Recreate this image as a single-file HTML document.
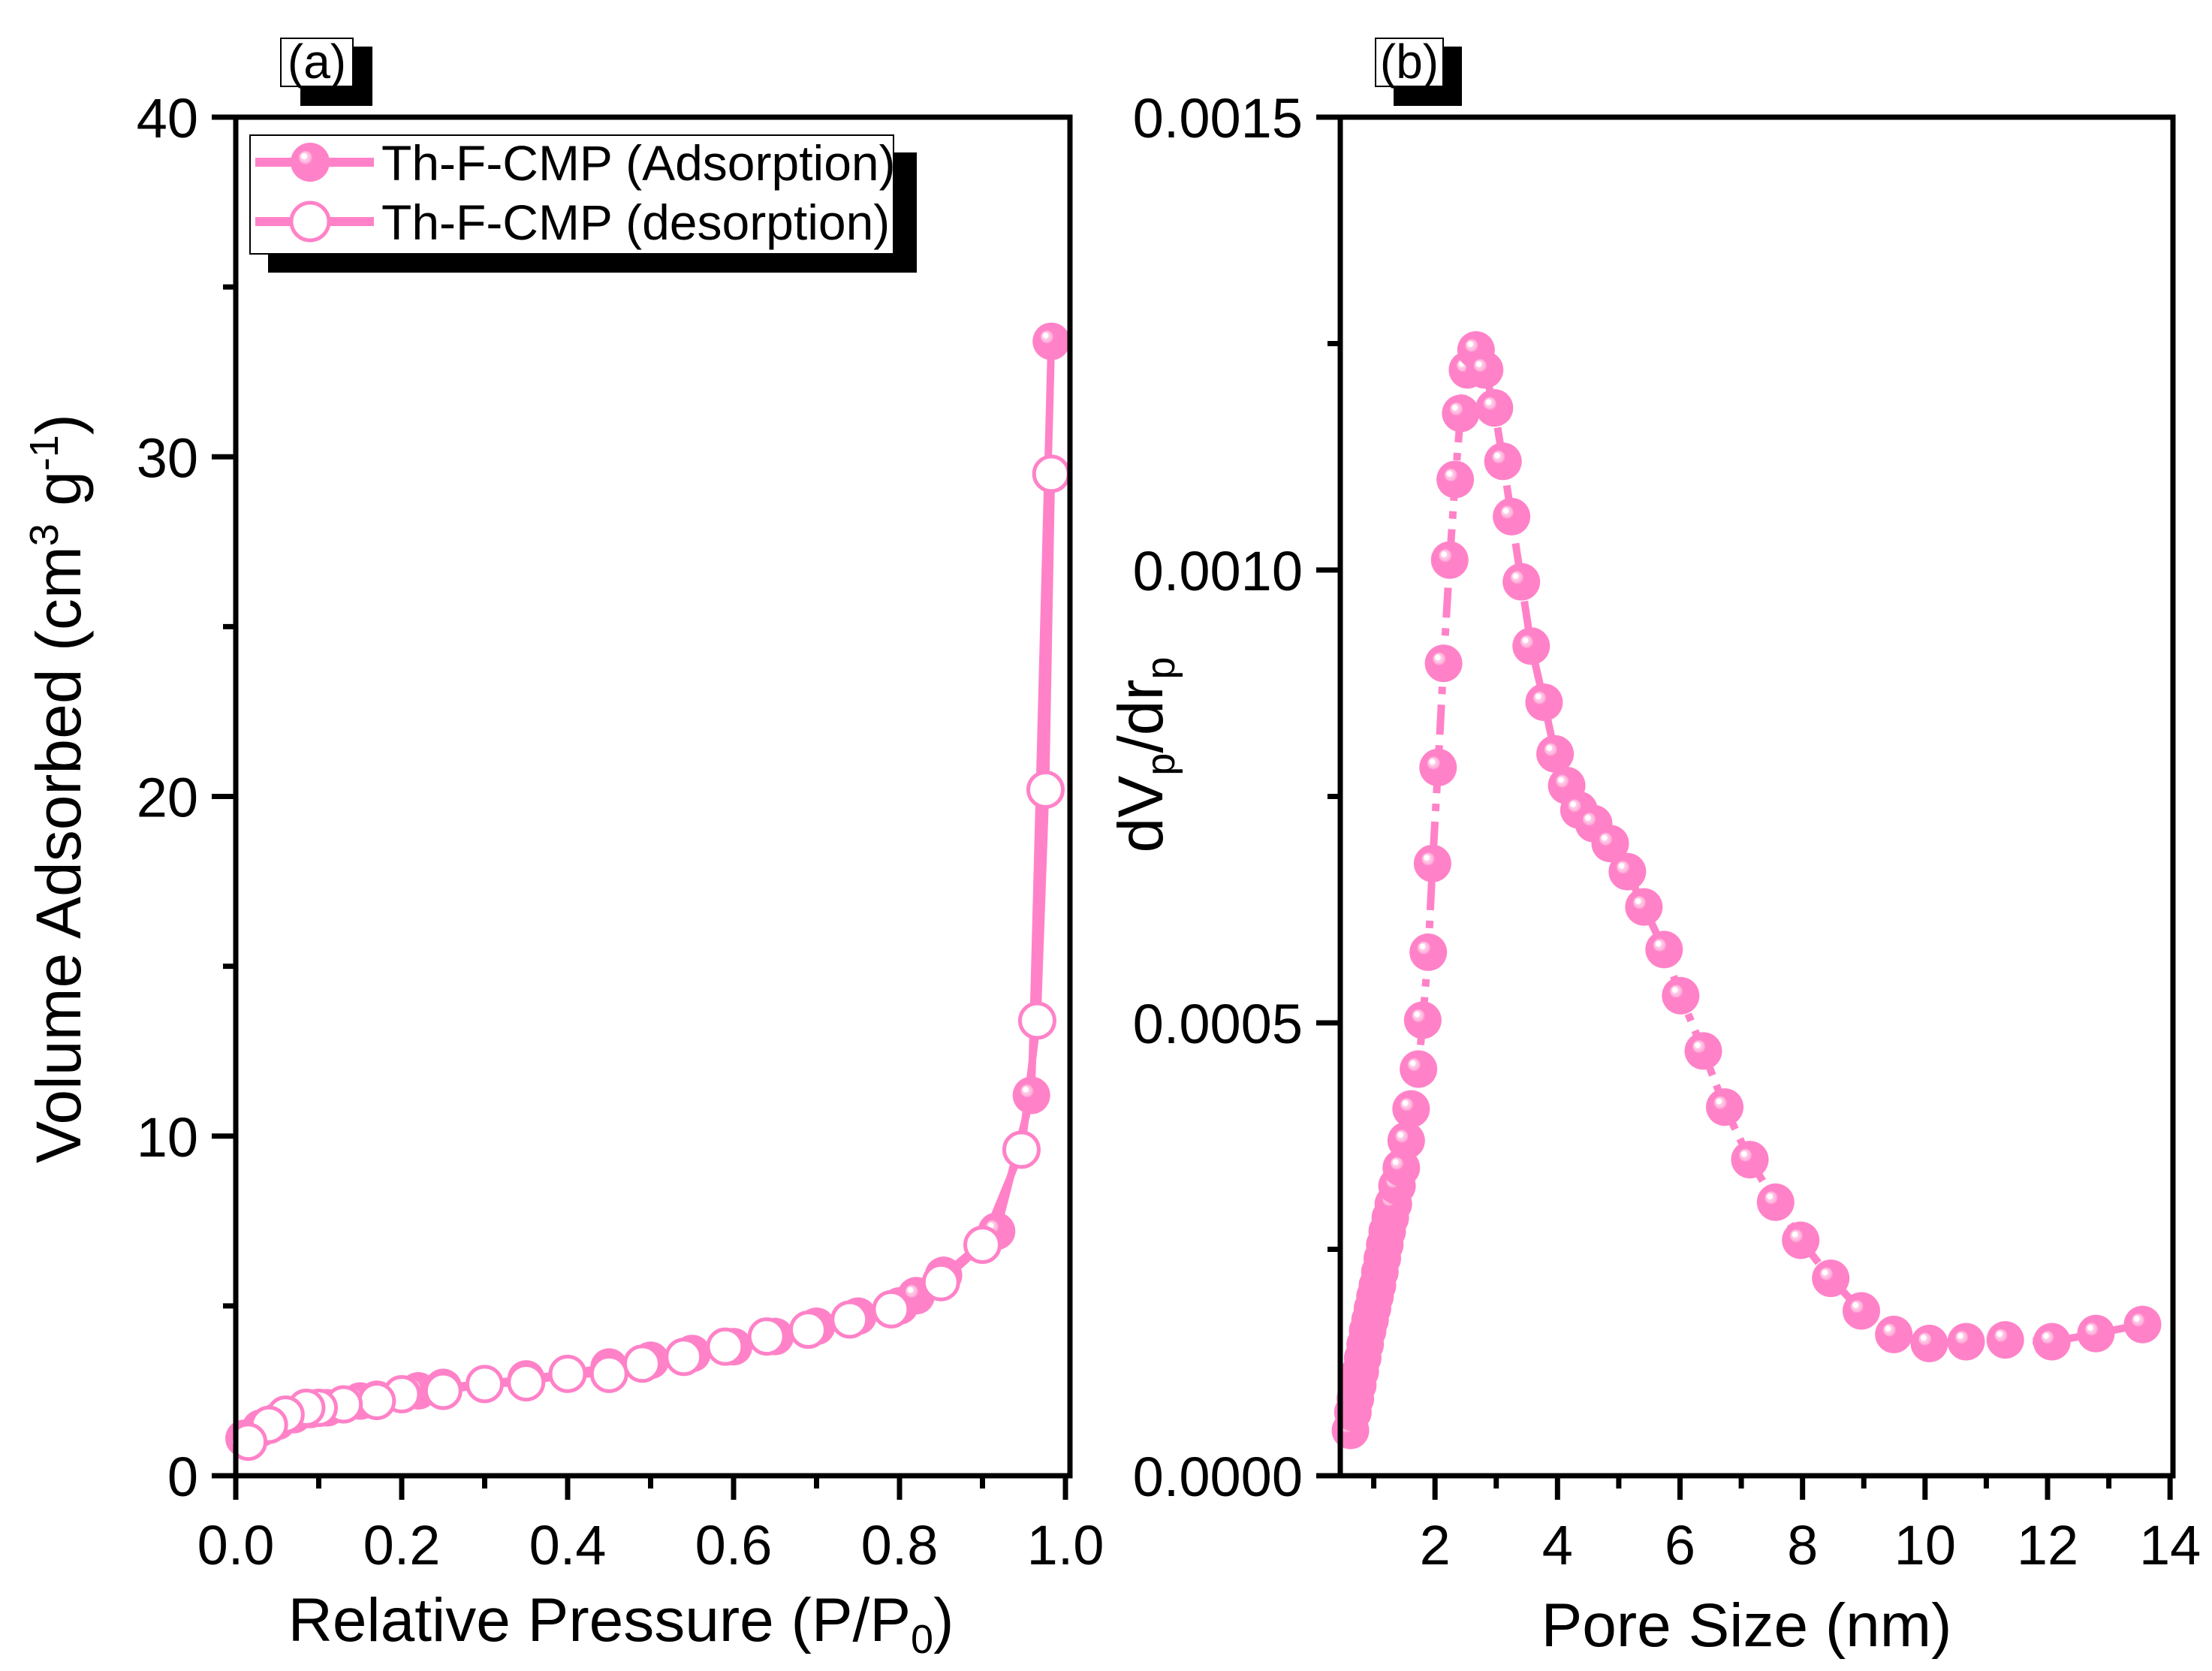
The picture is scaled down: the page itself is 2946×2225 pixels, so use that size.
<!DOCTYPE html>
<html><head><meta charset="utf-8"><style>
html,body{margin:0;padding:0;background:#fff;}
svg{display:block;font-family:"Liberation Sans",Arial,sans-serif;}
</style></head><body>
<svg id="chart" width="2946" height="2225" viewBox="0 0 2946 2225" xmlns="http://www.w3.org/2000/svg">
<defs>
<radialGradient id="ball" cx="0.5" cy="0.5" r="0.5" fx="0.32" fy="0.32">
<stop offset="0" stop-color="#ffffff"/>
<stop offset="0.14" stop-color="#ffffff"/>
<stop offset="0.16" stop-color="#ffd0ea"/>
<stop offset="0.3" stop-color="#ffb0da"/>
<stop offset="0.36" stop-color="#ff82c8"/>
<stop offset="1" stop-color="#ff82c8"/>
</radialGradient>
</defs>
<g id="panelA"></g>
<g id="panelB"></g>
</svg>
<script>
// Panel (a) data
const adsP = [0.01,0.03,0.05,0.07,0.09,0.11,0.13,0.15,0.17,0.20,0.22,0.25,0.30,0.35,0.40,0.45,0.50,0.55,0.60,0.65,0.70,0.75,0.80,0.82,0.853,0.917,0.959,0.983];
const adsV = [1.1,1.4,1.6,1.8,1.95,2.0,2.1,2.2,2.25,2.4,2.5,2.6,2.7,2.85,3.0,3.2,3.4,3.6,3.8,4.1,4.4,4.7,5.0,5.3,5.9,7.2,11.2,33.4];
const desP = [0.983,0.976,0.966,0.947,0.90,0.85,0.79,0.74,0.69,0.64,0.59,0.54,0.49,0.45,0.40,0.35,0.30,0.25,0.20,0.17,0.13,0.10,0.085,0.06,0.04,0.015];
const desV = [29.5,20.2,13.4,9.6,6.8,5.7,4.9,4.6,4.3,4.1,3.8,3.5,3.3,3.0,3.0,2.75,2.7,2.5,2.4,2.2,2.1,2.0,2.0,1.8,1.5,1.0];
const aXTicks = [0,0.2,0.4,0.6,0.8,1.0];
const aXLabels = ["0.0","0.2","0.4","0.6","0.8","1.0"];
const aYTicks = [0,10,20,30,40];
const aYLabels = ["0","10","20","30","40"];
// Panel (b) data
const poreX = [0.62,0.66,0.70,0.74,0.78,0.82,0.86,0.90,0.94,0.98,1.02,1.06,1.10,1.14,1.18,1.22,1.27,1.32,1.38,1.45,1.53,1.61,1.73,1.80,1.89,1.96,2.05,2.14,2.24,2.33,2.42,2.53,2.67,2.81,2.97,3.11,3.25,3.41,3.57,3.78,3.96,4.15,4.35,4.59,4.86,5.14,5.41,5.74,6.01,6.38,6.73,7.14,7.56,7.97,8.46,8.96,9.49,10.07,10.67,11.31,12.07,12.79,13.55];
const poreY = [0.00005,0.00007,0.000085,0.0001,0.000115,0.00013,0.000145,0.00016,0.000172,0.000185,0.000198,0.00021,0.000225,0.00024,0.000255,0.00027,0.000285,0.0003,0.00032,0.00034,0.00037,0.000405,0.000449,0.000503,0.000578,0.000676,0.000782,0.000897,0.001011,0.0011,0.001173,0.001221,0.001243,0.001221,0.001179,0.00112,0.001059,0.000987,0.000916,0.000854,0.000797,0.000762,0.000735,0.00072,0.000698,0.000667,0.000628,0.000581,0.00053,0.000469,0.000407,0.000349,0.000302,0.00026,0.000218,0.000182,0.000156,0.000146,0.000148,0.00015,0.000148,0.000157,0.000167];
const bXTicks = [2,4,6,8,10,12,14];
const bXLabels = ["2","4","6","8","10","12","14"];
const bYTicks = [0,0.0005,0.001,0.0015];
const bYLabels = ["0.0000","0.0005","0.0010","0.0015"];

const NS = "http://www.w3.org/2000/svg";
const PINK = "#ff82c8";
const MR = 25;
function mk(parent, tag, attrs, text){
  const e = document.createElementNS(NS, tag);
  for (const k in attrs) e.setAttribute(k, attrs[k]);
  if (text !== undefined) e.textContent = text;
  parent.appendChild(e);
  return e;
}

// ---------- Panel A ----------
const A = document.getElementById('panelA');
const ax = {L:314, R:1425, T:156, B:1965};
const axX = v => 314 + v*(1419-314);
const axY = v => 1965 - v/40*(1965-156);

function drawTicksAndFrame(g, box, xTicks, xLabels, xMinor, yTicks, yLabels, yMinor, xf, yf, prefix){
  for (let i=0;i<xMinor.length;i++){
    const t = mk(g,'line',{x1:xf(xMinor[i]),x2:xf(xMinor[i]),y1:box.B,y2:box.B+17,stroke:'#000','stroke-width':7});
    
    
  }
  for (let i=0;i<yMinor.length;i++){
    const t = mk(g,'line',{x1:box.L-17,x2:box.L,y1:yf(yMinor[i]),y2:yf(yMinor[i]),stroke:'#000','stroke-width':7});
    
    
  }
  for (let i=0;i<xTicks.length;i++){
    const x = xf(xTicks[i]);
    const t = mk(g,'line',{x1:x,x2:x,y1:box.B,y2:box.B+32,stroke:'#000','stroke-width':7});
    
    
    const l = mk(g,'text',{x:x,y:box.B+118,'font-size':74,'text-anchor':'middle',fill:'#000'},xLabels[i]);
    
    
  }
  for (let i=0;i<yTicks.length;i++){
    const y = yf(yTicks[i]);
    const t = mk(g,'line',{x1:box.L-32,x2:box.L,y1:y,y2:y,stroke:'#000','stroke-width':7});
    
    
    const l = mk(g,'text',{x:box.L-50,y:y+27,'font-size':74,'text-anchor':'end',fill:'#000'},yLabels[i]);
    
    
  }
  const f = mk(g,'rect',{x:box.L,y:box.T,width:box.R-box.L,height:box.B-box.T,fill:'none',stroke:'#000','stroke-width':7});
  
  
}

// lines
const adsPts = adsP.map((p,i)=>axX(p)+','+axY(adsV[i])).join(' ');
const desPts = desP.map((p,i)=>axX(p)+','+axY(desV[i])).join(' ');
const ln1 = mk(A,'polyline',{points:adsPts,fill:'none',stroke:PINK,'stroke-width':10,'stroke-linejoin':'round'});


const ln2 = mk(A,'polyline',{points:desPts,fill:'none',stroke:PINK,'stroke-width':10,'stroke-linejoin':'round'});


for (let i=0;i<adsP.length;i++){
  const c = mk(A,'circle',{cx:axX(adsP[i]),cy:axY(adsV[i]),r:MR,fill:'url(#ball)'});
  
  
}
for (let i=0;i<desP.length;i++){
  const c = mk(A,'circle',{cx:axX(desP[i]),cy:axY(desV[i]),r:MR-2,fill:'#fff',stroke:PINK,'stroke-width':5});
  
  
}
drawTicksAndFrame(A, ax, aXTicks, aXLabels, [0.1,0.3,0.5,0.7,0.9], aYTicks, aYLabels, [5,15,25,35], axX, axY, 'panel-a');

// axis titles A
const aXT = mk(A,'text',{x:827,y:2185,'font-size':82,'text-anchor':'middle',fill:'#000'});


aXT.innerHTML = 'Relative Pressure (P/P<tspan font-size="54" dy="16">0</tspan><tspan dy="-16">)</tspan>';
const aYT = mk(A,'text',{x:0,y:0,'font-size':84,'text-anchor':'middle',fill:'#000',transform:'translate(107,1050) rotate(-90)'});


aYT.innerHTML = 'Volume Adsorbed (cm<tspan font-size="54" dy="-30">3</tspan><tspan dy="30"> g</tspan><tspan font-size="54" dy="-30">-1</tspan><tspan dy="30">)</tspan>';

// legend
const lg = mk(A,'g',{});


mk(lg,'rect',{x:357,y:203,width:864,height:160,fill:'#000'});
mk(lg,'rect',{x:333,y:180,width:857,height:158,fill:'#fff',stroke:'#000','stroke-width':2});
const le1 = mk(lg,'g',{});


mk(le1,'line',{x1:340,x2:498,y1:216,y2:216,stroke:PINK,'stroke-width':12});
mk(le1,'circle',{cx:413,cy:216,r:26,fill:'url(#ball)'});
mk(le1,'text',{x:508,y:240,'font-size':66,fill:'#000'},'Th-F-CMP (Adsorption)');
const le2 = mk(lg,'g',{});


mk(le2,'line',{x1:340,x2:498,y1:295,y2:295,stroke:PINK,'stroke-width':12});
mk(le2,'circle',{cx:413,cy:295,r:25,fill:'#fff',stroke:PINK,'stroke-width':5});
mk(le2,'text',{x:508,y:319,'font-size':66,fill:'#000'},'Th-F-CMP (desorption)');

// panel label (a)
const pa = mk(A,'g',{});


mk(pa,'rect',{x:400,y:62,width:96,height:79,fill:'#000'});
mk(pa,'rect',{x:374,y:51,width:96,height:64,fill:'#fff',stroke:'#000','stroke-width':2});
mk(pa,'text',{x:422,y:104,'font-size':64,'text-anchor':'middle',fill:'#000'},'(a)');

// ---------- Panel B ----------
const B = document.getElementById('panelB');
const bx = {L:1785, R:2894, T:156, B:1965};
const bX = v => 1748 + v*(2890-1911)/12;
const bY = v => 1965 - v/0.0015*(1965-156);
const bPts = poreX.map((p,i)=>bX(p)+','+bY(poreY[i])).join(' ');
const bl = mk(B,'polyline',{points:bPts,fill:'none',stroke:PINK,'stroke-width':10,'stroke-dasharray':'40 14 10 14'});


for (let i=0;i<poreX.length;i++){
  const c = mk(B,'circle',{cx:bX(poreX[i]),cy:bY(poreY[i]),r:MR,fill:'url(#ball)'});
  
  
}
drawTicksAndFrame(B, bx, bXTicks, bXLabels, [1,3,5,7,9,11,13], bYTicks, bYLabels, [0.00025,0.00075,0.00125], bX, bY, 'panel-b');

const bXT = mk(B,'text',{x:2326,y:2192,'font-size':82,'text-anchor':'middle',fill:'#000'},'Pore Size (nm)');


const bYT = mk(B,'text',{x:0,y:0,'font-size':84,'text-anchor':'middle',fill:'#000',transform:'translate(1548,1005) rotate(-90)'});


bYT.innerHTML = 'dV<tspan font-size="54" dy="16">p</tspan><tspan dy="-16">/dr</tspan><tspan font-size="54" dy="16">p</tspan>';

const pb = mk(B,'g',{});


mk(pb,'rect',{x:1856,y:62,width:91,height:79,fill:'#000'});
mk(pb,'rect',{x:1832,y:51,width:90,height:64,fill:'#fff',stroke:'#000','stroke-width':2});
mk(pb,'text',{x:1877,y:104,'font-size':64,'text-anchor':'middle',fill:'#000'},'(b)');
</script>
</body></html>
